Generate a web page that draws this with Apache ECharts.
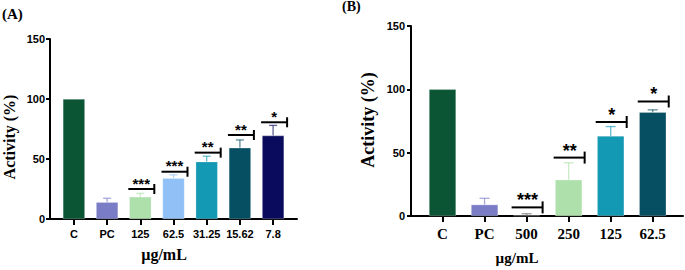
<!DOCTYPE html>
<html><head><meta charset="utf-8">
<script src="https://cdn.jsdelivr.net/npm/echarts@6/dist/echarts.min.js"></script>
<style>html,body{margin:0;padding:0;background:#fff}#c{width:685px;height:270px}</style>
</head><body><div id="c"></div>
<script>
// ---- data ----
const catsA = ['C', 'PC', '125', '62.5', '31.25', '15.62', '7.8'];
const valsA = [100, 14, 18.5, 34, 47.8, 59.3, 69.5];
const errA  = [null, 17.3, 21.4, 36.8, 52.3, 65.9, 78];
const sigA  = [null, null, '***', '***', '**', '**', '*'];
const sigHA = [null, null, 25, 39.4, 55.3, 70, 80.6];

const catsB = ['C', 'PC', '500', '250', '125', '62.5'];
const valsB = [100, 9, 0.4, 28.6, 63.2, 82];
const errB  = [null, 14, 1.8, 42, 70.6, 83.8];
const sigB  = [null, null, '***', '**', '*', '*'];
const sigHB = [null, null, 6.8, 46.1, 74.2, 90.4];

const yTicks = [0, 50, 100, 150];

// ---- styles ----
const colorsA = ['#0b5535', '#7a7dc6', '#ade0ab', '#90c0f6', '#1499b5', '#064f63', '#0b0b5e'];
const colorsB = ['#0b5535', '#7a7dc6', '#666666', '#ade0ab', '#1499b5', '#064f63'];
const serif = '"Liberation Serif","Times New Roman",serif';
const sans = '"Liberation Sans",Arial,sans-serif';

const chart = echarts.init(document.getElementById('c'), null, {renderer: 'svg'});

function idx(arr) { return arr.map((_, i) => i); }

function barData(vals, colors) {
  return vals.map((v, i) => ({value: [i, v], itemStyle: {color: colors[i]}}));
}
function errData(vals, errs) {
  const out = [];
  vals.forEach((v, i) => { if (errs[i] != null) out.push([i, v, errs[i]]); });
  return out;
}
function sigData(hs, sigs) {
  const out = [];
  hs.forEach((h, i) => { if (h != null) out.push({value: [i, h], name: sigs[i]}); });
  return out;
}
function errRender(colors, capW) {
  return function (params, api) {
    const i = api.value(0);
    const p0 = api.coord([i, api.value(1)]);
    const p1 = api.coord([i, api.value(2)]);
    const st = {stroke: colors[i], lineWidth: 1.3, opacity: 0.65};
    return {type: 'group', children: [
      {type: 'line', shape: {x1: p0[0], y1: p0[1], x2: p1[0], y2: p1[1]}, style: st},
      {type: 'line', shape: {x1: p1[0] - capW / 2, y1: p1[1], x2: p1[0] + capW / 2, y2: p1[1]}, style: st}
    ]};
  };
}
function sigRender(data, l, r, th, dy, fs) {
  return function (params, api) {
    const p = api.coord([api.value(0), api.value(1)]);
    const txt = data[params.dataIndex].name;
    const st = {stroke: '#000', lineWidth: 2};
    return {type: 'group', children: [
      {type: 'line', shape: {x1: p[0] - l, y1: p[1], x2: p[0] + r, y2: p[1]}, style: st},
      {type: 'line', shape: {x1: p[0] + r, y1: p[1] - th, x2: p[0] + r, y2: p[1] + th}, style: st},
      {type: 'text', style: {text: txt, x: p[0] + 1, y: p[1] - dy, align: 'center', verticalAlign: 'middle',
        font: 'bold ' + fs + 'px ' + sans, fill: '#000'}}
    ]};
  };
}

const sigDataA = sigData(sigHA, sigA);
const sigDataB = sigData(sigHB, sigB);

function xAxisCfg(grid, cats, min, max, labelFont, margin) {
  return {
    type: 'value', gridIndex: grid, min: min, max: max,
    splitLine: {show: false},
    axisLine: {show: true, onZero: false, lineStyle: {color: '#000', width: 2}},
    axisTick: {show: true, customValues: idx(cats), length: 6, lineStyle: {color: '#000', width: 2}},
    axisLabel: {customValues: idx(cats), formatter: v => cats[Math.round(v)], color: '#000',
      fontWeight: 'bold', fontSize: labelFont.size, fontFamily: labelFont.family, margin: margin}
  };
}
function yAxisCfg(grid, margin) {
  return {
    type: 'value', gridIndex: grid, min: 0, max: 150, interval: 50,
    splitLine: {show: false},
    axisLine: {show: true, onZero: false, lineStyle: {color: '#000', width: 2}},
    axisTick: {show: true, length: 4, lineStyle: {color: '#000', width: 2}},
    axisLabel: {color: '#000', fontWeight: 'bold', fontSize: 11, fontFamily: sans, margin: margin}
  };
}

chart.setOption({
  animation: false,
  grid: [
    {left: 50, top: 39, width: 247, height: 180},
    {left: 411, top: 26, width: 272, height: 190}
  ],
  xAxis: [
    xAxisCfg(0, catsA, -0.72, 6.72, {size: 11, family: sans}, 9),
    xAxisCfg(1, catsB, -0.75, 5.72, {size: 15, family: serif}, 10)
  ],
  yAxis: [yAxisCfg(0, 5), yAxisCfg(1, 6)],
  series: [
    {type: 'bar', xAxisIndex: 0, yAxisIndex: 0, barWidth: 22, data: barData(valsA, colorsA),
      itemStyle: {borderColor: 'rgba(255,255,255,0.5)', borderWidth: 0.5}},
    {type: 'bar', xAxisIndex: 1, yAxisIndex: 1, barWidth: 27, data: barData(valsB, colorsB),
      itemStyle: {borderColor: 'rgba(255,255,255,0.5)', borderWidth: 0.5}},
    {type: 'custom', xAxisIndex: 0, yAxisIndex: 0, data: errData(valsA, errA), renderItem: errRender(colorsA, 8), z: 1},
    {type: 'custom', xAxisIndex: 1, yAxisIndex: 1, data: errData(valsB, errB), renderItem: errRender(colorsB, 10), z: 1},
    {type: 'custom', xAxisIndex: 0, yAxisIndex: 0, data: sigDataA, renderItem: sigRender(sigDataA, 12, 14, 5, 6, 15)},
    {type: 'custom', xAxisIndex: 1, yAxisIndex: 1, data: sigDataB, renderItem: sigRender(sigDataB, 15, 16, 6, 7, 18)}
  ],
  graphic: [
    {type: 'text', left: 2, top: 6, style: {text: '(A)', font: 'bold 15px ' + serif, fill: '#000'}},
    {type: 'text', left: 342, top: -1, style: {text: '(B)', font: 'bold 14px ' + serif, fill: '#000'}},
    {type: 'text', x: 9, y: 137, rotation: Math.PI / 2,
      style: {text: 'Activity (%)', font: 'bold 16px ' + serif, fill: '#000', align: 'center', verticalAlign: 'middle'}},
    {type: 'text', x: 368, y: 120, rotation: Math.PI / 2,
      style: {text: 'Activity (%)', font: 'bold 18px ' + serif, fill: '#000', align: 'center', verticalAlign: 'middle'}},
    {type: 'text', x: 164, y: 254,
      style: {text: 'µg/mL', font: 'bold 16px ' + serif, fill: '#000', align: 'center', verticalAlign: 'middle'}},
    {type: 'text', x: 517, y: 258,
      style: {text: 'µg/mL', font: 'bold 15px ' + serif, fill: '#000', align: 'center', verticalAlign: 'middle'}}
  ]
});
</script></body></html>
